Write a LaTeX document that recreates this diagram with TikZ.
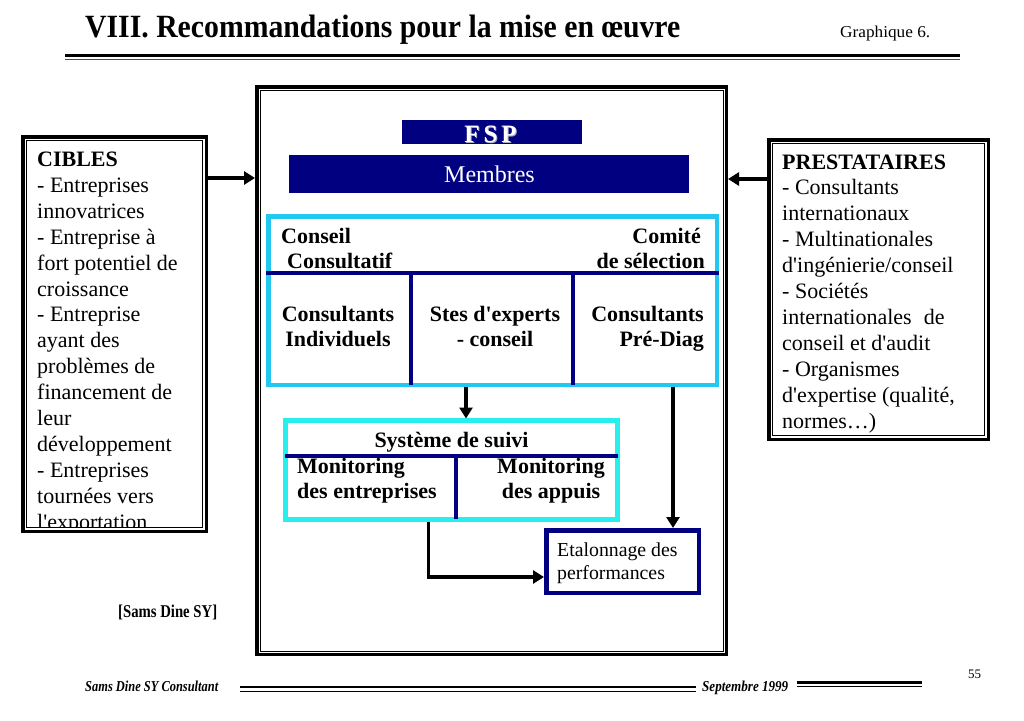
\documentclass[tikz,border=0pt]{standalone}
\usepackage{fontspec}
\setmainfont{Liberation Serif}[Ligatures=TeXOff]
\usetikzlibrary{arrows.meta}
\definecolor{navy}{RGB}{0,0,128}
\definecolor{cyanA}{RGB}{34,200,240}
\definecolor{cyanB}{RGB}{40,238,238}
\definecolor{shadowgray}{RGB}{170,170,190}
\newcommand{\Lt}[1]{\begin{tabular}[t]{@{}l@{}}#1\end{tabular}}
\newcommand{\Ct}[1]{\begin{tabular}[t]{@{}c@{}}#1\end{tabular}}
\newcommand{\Rt}[1]{\begin{tabular}[t]{@{}r@{}}#1\end{tabular}}
\tikzset{
  txt/.style={inner sep=0pt, font=\fontsize{22}{25.9}\selectfont},
  btxt/.style={inner sep=0pt, font=\fontsize{22}{25.9}\selectfont\bfseries},
  arr/.style={line width=3.5pt, -{Triangle[length=11pt,width=13pt]}},
  outerframe/.style={draw=black, line width=3.5pt, inner sep=0pt},
  innerframe/.style={draw=black, line width=1pt},
  cyanframeA/.style={draw=cyanA, line width=4.5pt, inner sep=0pt, outer sep=0pt},
  cyanframeB/.style={draw=cyanB, line width=5pt, inner sep=0pt, outer sep=0pt},
  navyframe/.style={draw=navy, line width=4.5pt, inner sep=0pt},
  navybar/.style={fill=navy, inner sep=0pt},
  divider/.style={draw=navy, line width=4pt},
}
\begin{document}
\begin{tikzpicture}[x=1pt,y=-1pt]
\useasboundingbox[fill=white] (0,0) rectangle (1024,720);

% ---------- header ----------
\node[anchor=base west, inner sep=0pt] (title) at (85,37)
  {\resizebox{595pt}{22.5pt}{\bfseries VIII. Recommandations pour la mise en œuvre}};
\node[anchor=base west, inner sep=0pt] (graph) at (840,37)
  {\resizebox{90pt}{11.5pt}{Graphique 6.}};
\draw[line width=3.5pt] (65,55.5) -- (960,55.5);
\draw[line width=1pt, black!70] (65,59.8) -- (960,59.8);

% ---------- main frame ----------
\node[outerframe, minimum width=469.5pt, minimum height=567.5pt] (main) at (491.5,370.5) {};
\draw[innerframe] ([shift={(5,5)}]main.north west) rectangle ([shift={(-5,-5)}]main.south east);

% FSP and Membres bars
\node[navybar, minimum width=180pt, minimum height=24pt] (fspbar) at (492,132) {};
\node[anchor=base, inner sep=0pt, text=shadowgray, font=\fontsize{25}{28}\selectfont\bfseries] (fspshadow) at (491.5,143)
  {F\hspace{4pt}S\hspace{4pt}P};
\node[anchor=base, inner sep=0pt, text=white, font=\fontsize{25}{28}\selectfont\bfseries] (fsp) at (490.5,142)
  {F\hspace{4pt}S\hspace{4pt}P};
\node[navybar, minimum width=400pt, minimum height=38pt] (membres) at (489,174) {};
\node[anchor=base, inner sep=0pt, text=white, font=\fontsize{24}{28}\selectfont] (membrestxt) at (489.5,182) {Membres};

% cyan box A
\node[cyanframeA, minimum width=448.5pt, minimum height=168.5pt] (cA) at (492.5,300.5) {};
\draw[divider] (266,273) -- (719,273);
\draw[divider] (411,273) -- (411,385);
\draw[divider] (573,273) -- (573,385);
\node[btxt, anchor=base west] (conseil) at (281,243) {Conseil};
\node[btxt, anchor=base west] (consultatif) at (287,268) {Consultatif};
\node[btxt, anchor=base east] (comite) at (701,243) {Comité};
\node[btxt, anchor=base east] (selection) at (705,268) {de sélection};
\node[btxt, anchor=base] (ci) at (338,321) {\Ct{Consultants\\Individuels}};
\node[btxt, anchor=base] (stes) at (495,321) {\Ct{Stes d'experts\\- conseil}};
\node[btxt, anchor=base east] (cpd) at (704,321) {\Rt{Consultants\\Pré-Diag}};

% cyan box B
\node[cyanframeB, minimum width=332pt, minimum height=99pt] (cB) at (451.5,470) {};
\draw[divider] (285,456) -- (618,456);
\draw[divider] (456,456) -- (456,519);
\node[btxt, anchor=base] (suivi) at (451.5,447) {Système de suivi};
\node[btxt, anchor=base west] (monent) at (297,473) {\Lt{Monitoring\\des entreprises}};
\node[btxt, anchor=base] (monapp) at (551,473) {\Ct{Monitoring\\des appuis}};

% Etalonnage
\node[navyframe, minimum width=152.5pt, minimum height=62.5pt] (eta) at (622.5,561.5) {};
\node[anchor=base west, inner sep=0pt, font=\fontsize{19.8}{23}\selectfont] (etatxt) at (557,556)
  {\Lt{Etalonnage des\\performances}};

% ---------- CIBLES ----------
\node[outerframe, minimum width=183.5pt, minimum height=394.5pt] (cib) at (114.5,334) {};
\draw[innerframe] ([shift={(5.5,5.5)}]cib.north west) coordinate (cibnw) rectangle ([shift={(-5.5,-5.5)}]cib.south east) coordinate (cibse);
\begin{scope}
\clip (cibnw) rectangle (cibse);
\node[txt, anchor=base west] (cibtxt) at (37,166.5)
  {\Lt{\textbf{CIBLES}\\- Entreprises\\innovatrices\\- Entreprise à\\fort potentiel de\\croissance\\- Entreprise\\ayant des\\problèmes de\\financement de\\leur\\développement\\- Entreprises\\tournées vers\\l'exportation}};
\end{scope}

% ---------- PRESTATAIRES ----------
\node[outerframe, minimum width=219.5pt, minimum height=299.5pt] (prest) at (878.5,289.5) {};
\draw[innerframe] ([shift={(5.5,5.5)}]prest.north west) rectangle ([shift={(-5.5,-5.5)}]prest.south east);
\node[txt, anchor=base west] (presttxt) at (782,169)
  {\Lt{\textbf{PRESTATAIRES}\\- Consultants\\internationaux\\- Multinationales\\d'ingénierie/conseil\\- Sociétés\\internationales\hspace{0.3em} de\\conseil et d'audit\\- Organismes\\d'expertise (qualité,\\normes…)}};

% ---------- connectors ----------
\coordinate (ya) at (0,178);
\coordinate (yb) at (0,179);
\coordinate (xa) at (466,0);
\coordinate (xb) at (673,0);
\coordinate (xc) at (428.5,0);
\coordinate (yc) at (0,577);
\draw[arr] (cib.east |- ya) -- (main.west |- ya);
\draw[arr] (prest.west |- yb) -- (main.east |- yb);
\draw[arr] ([yshift=-2pt]cA.south -| xa) -- ([yshift=2pt]cB.north -| xa);
\draw[arr] ([yshift=-2pt]cA.south -| xb) -- (eta.north -| xb);
\draw[arr] ([yshift=-2pt]cB.south -| xc) |- (eta.west |- yc);

% ---------- footer ----------
\node[anchor=base west, inner sep=0pt] (sig) at (118,617)
  {\resizebox{99pt}{12.5pt}{\bfseries [Sams Dine SY]}};
\node[anchor=base west, inner sep=0pt] (foot1) at (85,691)
  {\resizebox{133pt}{10.5pt}{\bfseries\itshape Sams Dine SY Consultant}};
\node[anchor=base west, inner sep=0pt] (foot2) at (702,691)
  {\resizebox{86pt}{10.5pt}{\bfseries\itshape Septembre 1999}};
\node[anchor=base west, inner sep=0pt, font=\fontsize{13}{15}\selectfont] (pnum) at (968,678) {55};
\draw[line width=2.5pt] (240,687) -- (696,687);
\draw[line width=1pt] (240,691) -- (696,691);
\draw[line width=3pt] (797,682) -- (922,682);
\draw[line width=1pt] (797,686.5) -- (922,686.5);
\end{tikzpicture}
\end{document}
